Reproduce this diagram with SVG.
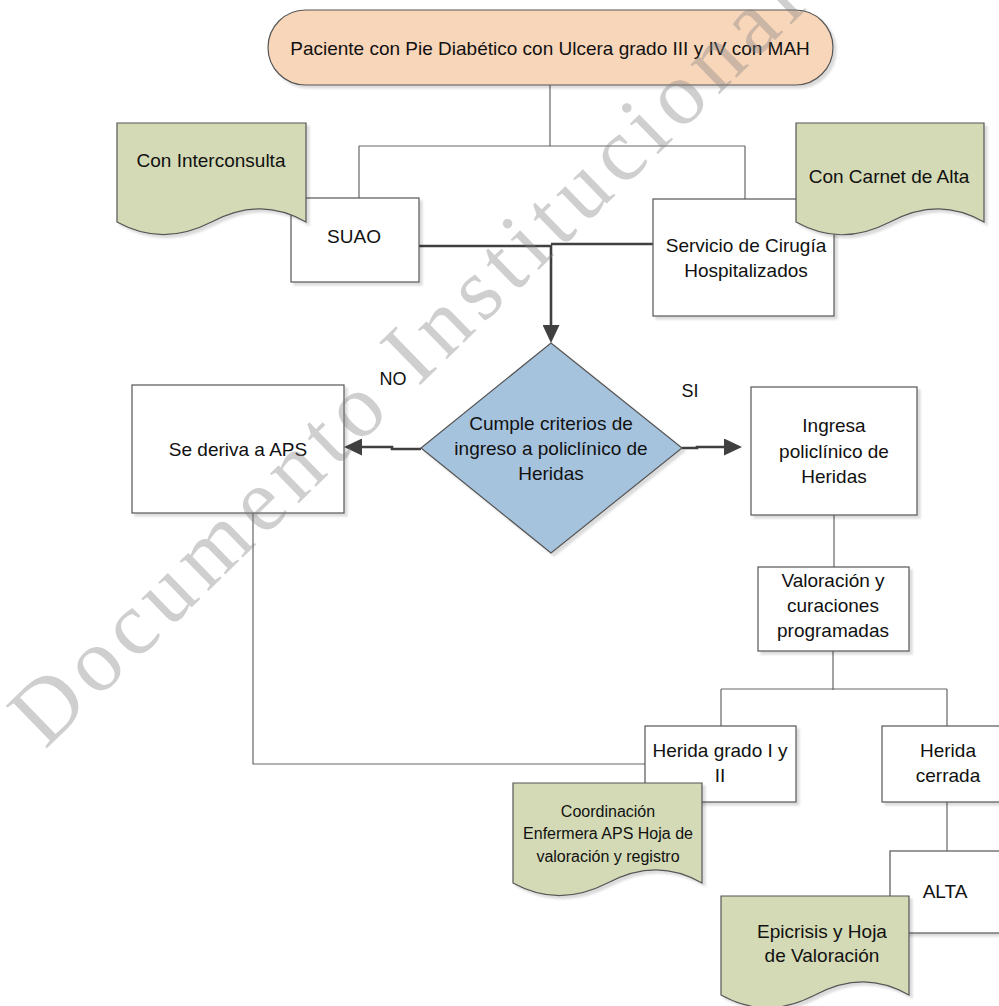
<svg xmlns="http://www.w3.org/2000/svg" width="999" height="1006" viewBox="0 0 999 1006">
<defs>
<style>
.box{fill:#ffffff;stroke:#555555;stroke-width:1.2;filter:url(#sh)}
.term{fill:#f8d6ba;stroke:#555555;stroke-width:1.2;filter:url(#sh)}
.doc{fill:#d3dab5;stroke:#555555;stroke-width:1.2;filter:url(#sh)}
.dia{fill:#a6c3de;stroke:#555555;stroke-width:1.2;filter:url(#sh)}
.t{font-family:"Liberation Sans",Arial,sans-serif;font-size:19px;fill:#111111;text-anchor:middle}
.ts{font-family:"Liberation Sans",Arial,sans-serif;font-size:16px;fill:#111111;text-anchor:middle}
.thin{fill:none;stroke:#666666;stroke-width:1.2}
.thick{fill:none;stroke:#404040;stroke-width:2.6;marker-end:url(#ah)}
.thickn{fill:none;stroke:#404040;stroke-width:2.6}
.wm{font-family:"Liberation Serif","Times New Roman",serif;font-size:90px;fill:#808080;fill-opacity:0.38}
</style>
<filter id="sh" x="-10%" y="-10%" width="130%" height="130%">
<feDropShadow dx="3" dy="3" stdDeviation="1" flood-color="#000000" flood-opacity="0.14"/>
</filter>
<marker id="ah" viewBox="0 0 18 17" refX="8" refY="8.5" markerWidth="18" markerHeight="17" markerUnits="userSpaceOnUse" orient="auto">
<path d="M0,0 L18,8.5 L0,17 Z" fill="#404040"/>
</marker>
</defs>

<g id="connectors">
<path class="thin" d="M550,85 V146 M359,146 H745 M359,146 V198 M745,146 V199"/>
<path class="thin" d="M834,515 V567"/>
<path class="thin" d="M833,651 V690 M721,689 H947 M721,689 V726 M947,689 V726"/>
<path class="thin" d="M253,513 V764 H645"/>
<path class="thin" d="M947,802 V851"/>
<path class="thickn" d="M419,246 H551 M653,244 H551"/>
<path class="thick" d="M551,245 V333"/>
<path class="thick" d="M421,449 H392 V447 H354"/>
<path class="thick" d="M682,448 H697 V447 H732"/>
</g>

<g id="n-paciente">
<rect class="term" x="268" y="10" width="565" height="75" rx="37.5" ry="37.5"/>
<text class="t" x="550" y="55">Paciente con Pie Diabético con Ulcera grado III y IV con MAH</text>
</g>

<g id="n-suao">
<rect class="box" x="291" y="198" width="128" height="84"/>
<text class="t" x="354" y="243">SUAO</text>
</g>

<g id="n-interconsulta">
<path class="doc" d="M117,123 H306 V222 C276,205 246,204 211.5,222 C176.5,240 146,238 117,222 Z"/>
<text class="t" x="211" y="167">Con Interconsulta</text>
</g>

<g id="n-servicio">
<rect class="box" x="653" y="199" width="181" height="117"/>
<text class="t" x="746" y="252">Servicio de Cirugía</text>
<text class="t" x="746" y="277">Hospitalizados</text>
</g>

<g id="n-carnet">
<path class="doc" d="M796,123 H984 V222 C954,205 924,204 890,222 C855,240 825,238 796,222 Z"/>
<text class="t" x="889" y="183">Con Carnet de Alta</text>
</g>

<g id="n-cumple">
<path class="dia" d="M551,343 L682,448 L551,553 L421,448 Z"/>
<text class="t" x="551" y="430">Cumple criterios de</text>
<text class="t" x="551" y="455">ingreso a policlínico de</text>
<text class="t" x="551" y="480">Heridas</text>
</g>

<g id="l-no"><text class="t" x="393" y="385" style="font-size:18px">NO</text></g>
<g id="l-si"><text class="t" x="690" y="397" style="font-size:18px">SI</text></g>

<g id="n-aps">
<rect class="box" x="132" y="385" width="212" height="128"/>
<text class="t" x="238" y="456">Se deriva a APS</text>
</g>

<g id="n-ingresa">
<rect class="box" x="751" y="387" width="166" height="128"/>
<text class="t" x="834" y="432">Ingresa</text>
<text class="t" x="834" y="458">policlínico de</text>
<text class="t" x="834" y="483">Heridas</text>
</g>

<g id="n-valoracion">
<rect class="box" x="758" y="567" width="151" height="84"/>
<text class="t" x="833" y="587">Valoración y</text>
<text class="t" x="833" y="612">curaciones</text>
<text class="t" x="833" y="637">programadas</text>
</g>

<g id="n-herida12">
<rect class="box" x="645" y="726" width="151" height="76"/>
<text class="t" x="720" y="757">Herida grado I y</text>
<text class="t" x="720" y="782">II</text>
</g>

<g id="n-coordinacion">
<path class="doc" d="M513,783 H702 V883 C672,866 642,865 607.5,883 C572.5,901 542,899 513,883 Z"/>
<text class="ts" x="608" y="817">Coordinación</text>
<text class="ts" x="608" y="839">Enfermera APS Hoja de</text>
<text class="ts" x="608" y="862">valoración y registro</text>
</g>

<g id="n-cerrada">
<rect class="box" x="882" y="726" width="132" height="76"/>
<text class="t" x="948" y="757">Herida</text>
<text class="t" x="948" y="782">cerrada</text>
</g>

<g id="n-alta">
<rect class="box" x="890" y="851" width="112" height="82"/>
<text class="t" x="945" y="898">ALTA</text>
</g>

<g id="n-epicrisis">
<path class="doc" d="M721,896 H909 V995 C879,978 849,977 815,995 C780,1013 750,1011 721,995 Z"/>
<text class="t" x="822" y="938">Epicrisis y Hoja</text>
<text class="t" x="822" y="962">de Valoración</text>
</g>

<g id="watermark">
<text class="wm" x="0" y="0" transform="translate(45,750) rotate(-44.2)" textLength="1064" lengthAdjust="spacing">Documento Institucional</text>
</g>
</svg>
